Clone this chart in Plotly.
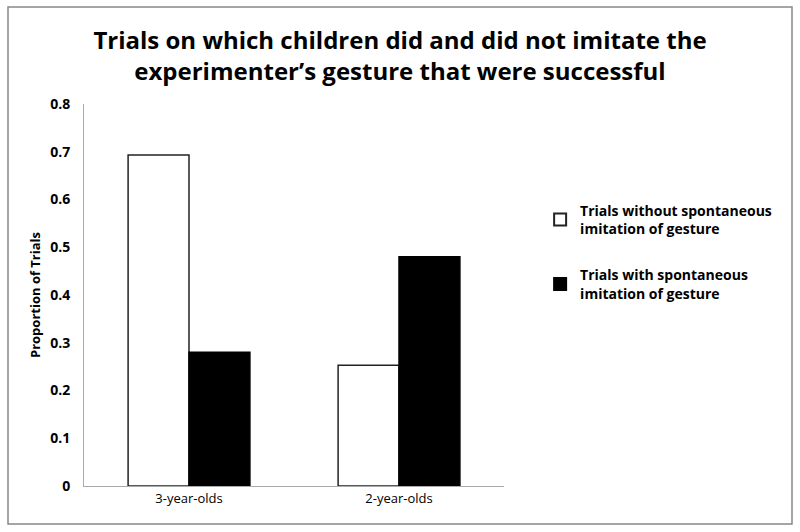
import plotly.graph_objects as go

categories = ["3-year-olds", "2-year-olds"]
without_imitation = [0.693, 0.253]
with_imitation = [0.280, 0.480]
series_names = ["Trials without spontaneous<br>imitation of gesture",
                "Trials with spontaneous<br>imitation of gesture"]
y_ticks = [0, 0.1, 0.2, 0.3, 0.4, 0.5, 0.6, 0.7, 0.8]
y_ticklabels = ["0", "0.1", "0.2", "0.3", "0.4", "0.5", "0.6", "0.7", "0.8"]

FONT = "Open Sans"

fig = go.Figure()
fig.add_trace(go.Bar(x=categories, y=without_imitation, name=series_names[0],
                     marker=dict(color="white", line=dict(color="#222", width=1.5)),
                     legendgroup="a"))
fig.add_trace(go.Bar(x=categories, y=with_imitation, name=series_names[1],
                     marker=dict(color="black", line=dict(color="black", width=1.5)),
                     legendgroup="b"))

fig.update_layout(
    width=800, height=532,
    paper_bgcolor="white", plot_bgcolor="white",
    margin=dict(l=84, r=296, t=104, b=46, autoexpand=False),
    barmode="group", bargap=0.42, bargroupgap=0,
    title=dict(text="<b>Trials on which children did and did not imitate the<br>experimenter’s gesture that were successful</b>",
               x=0.5, xref="container", xanchor="center",
               y=1 - 49 / 532, yref="container", yanchor="middle",
               font=dict(family=FONT, size=24, color="black")),
    font=dict(family=FONT, color="black"),
    showlegend=True,
    legend=dict(x=1.086, xanchor="left", y=0.762, yanchor="top",
                font=dict(family=FONT, size=14, color="black", weight="bold"),
                tracegroupgap=25, itemsizing="constant",
                bgcolor="rgba(0,0,0,0)"),
    xaxis=dict(showline=True, linecolor="#aaa", linewidth=1, ticks="",
               tickfont=dict(family=FONT, size=13, color="black"),
               showgrid=False),
    yaxis=dict(range=[0, 0.8], tickvals=y_ticks, ticktext=y_ticklabels,
               showline=True, linecolor="#aaa", linewidth=1, ticks="",
               showgrid=False, zeroline=False,
               tickfont=dict(family=FONT, size=14, color="black", weight="bold"),
               ticklabelstandoff=10,
               title=dict(text="<b>Proportion of Trials</b>", standoff=6,
                          font=dict(family=FONT, size=13, color="black"))),
)

# outer frame
fig.add_shape(type="rect", xref="paper", yref="paper",
              x0=(8 - 84) / 420, x1=(792 - 84) / 420,
              y0=(486 - 524) / 382, y1=(486 - 7) / 382,
              line=dict(color="#888", width=1.5), fillcolor="rgba(0,0,0,0)", layer="below")

fig.write_html("out.html", config={"displayModeBar": False},
               post_script="document.body.style.margin='0';document.body.style.padding='0';")
